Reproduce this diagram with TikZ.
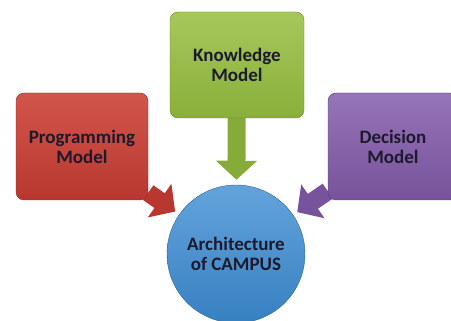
\documentclass[tikz,border=0pt]{standalone}
\usepackage{fontspec}
\setmainfont{Carlito}
\usetikzlibrary{arrows.meta,backgrounds}

\definecolor{boxred}{RGB}{204,62,52}
\definecolor{boxgreen}{RGB}{150,190,62}
\definecolor{boxpurple}{RGB}{132,92,172}
\definecolor{boxblue}{RGB}{60,140,210}
\definecolor{labeltext}{RGB}{28,26,44}

\tikzset{
    model/.style={rounded corners=8pt, minimum width=132pt, minimum height=107pt,
        align=center, font=\fontsize{19}{20}\selectfont\bfseries, text=labeltext},
    hub/.style={circle, minimum size=138pt, align=center,
        font=\fontsize{19}{20}\selectfont\bfseries, text=labeltext},
    feed/.style={line width=18pt, -{Triangle[width=40pt,length=19pt]}, shorten >=5pt},
}

\begin{document}
\begin{tikzpicture}[x=1pt, y=1pt]
        \useasboundingbox (0,0) rectangle (451,321);

        \node[model, minimum width=134pt, minimum height=106pt, draw=boxgreen!70!black,
            top color=boxgreen!85!white, bottom color=boxgreen!92!black] (know) at (237,256) {Knowledge\\Model};
        \node[model, draw=boxred!70!black,
            top color=boxred!88!white, bottom color=boxred!90!black] (prog) at (82,174.5) {Programming\\Model};
        \node[model, minimum width=130pt, draw=boxpurple!70!black,
            top color=boxpurple!85!white, bottom color=boxpurple!90!black] (dec) at (393,174.5) {Decision\\Model};
        \node[hub, draw=boxblue!70!black,
            top color=boxblue!80!white, bottom color=boxblue!92!black] (arch) at (236,67) {Architecture\\of CAMPUS};

        % block arrows behind the boxes
        \begin{pgfonlayer}{background}
            \draw[feed, boxgreen!90!black] (know) -- (arch);
            \draw[feed, boxred!90!black] (prog) -- (arch);
            \draw[feed, boxpurple!90!black] (dec) -- (arch);
        \end{pgfonlayer}
    \end{tikzpicture}
\end{document}
